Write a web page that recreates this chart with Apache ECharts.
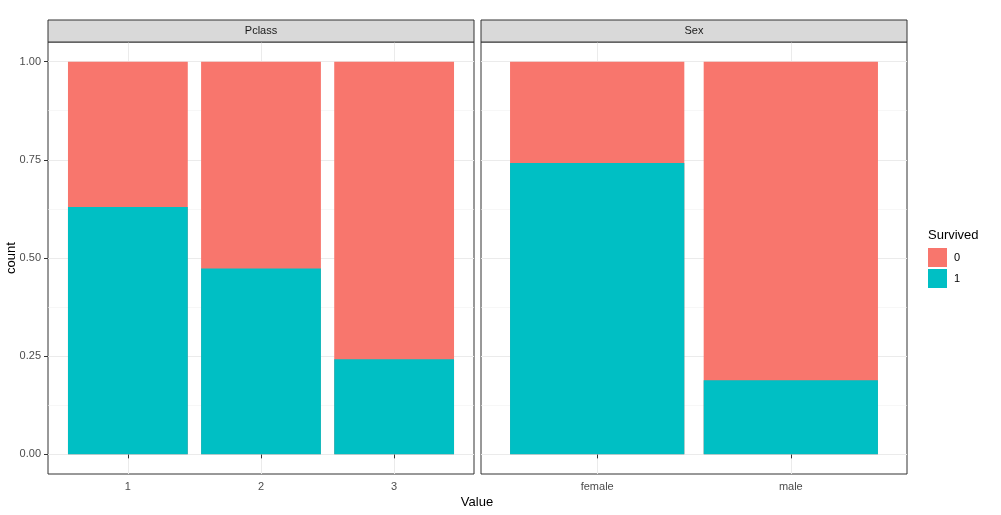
<!DOCTYPE html>
<html><head><meta charset="utf-8">
<script src="https://cdn.jsdelivr.net/npm/echarts@6/dist/echarts.min.js"></script>
<style>html,body{margin:0;padding:0;background:#fff}#c{width:1001px;height:515px}</style>
</head><body><div id="c"></div>
<script>
// Data (proportions; each bar totals 1)
const pclassCats = ['1', '2', '3'];
const pclassSurv1 = [0.630, 0.473, 0.242];
const pclassTotal = [1, 1, 1];
const sexCats = ['female', 'male'];
const sexSurv1 = [0.742, 0.189];
const sexTotal = [1, 1];
const yTicks = [0, 0.25, 0.5, 0.75, 1];
const yMinor = [0.125, 0.375, 0.625, 0.875];
const facetNames = ['Pclass', 'Sex'];

const RED = '#F8766D', TEAL = '#00BFC4';
const FONT = 'Liberation Sans, Arial, sans-serif';
const chart = echarts.init(document.getElementById('c'), null, {renderer: 'canvas'});

const grids = [
  {left: 48, top: 42, width: 426, height: 432},
  {left: 481, top: 42, width: 426, height: 432}
];
const cats = [pclassCats, sexCats];

function xAxis(i) {
  const n = cats[i].length;
  const pos = cats[i].map((_, k) => k + 1);
  return {
    type: 'value', gridIndex: i, min: 0.4, max: n + 0.6,
    axisLine: {show: false},
    axisTick: {show: true, length: 4, lineStyle: {color: '#333', width: 1}, customValues: pos},
    axisLabel: {customValues: pos, margin: 7, color: '#4D4D4D', fontSize: 11, fontFamily: FONT,
      formatter: v => cats[i][Math.round(v) - 1]},
    splitLine: {show: true, lineStyle: {color: '#EBEBEB', width: 1}, customValues: pos}
  };
}
function yAxis(i, showLabels) {
  return {
    type: 'value', gridIndex: i, min: -0.05, max: 1.05,
    axisLine: {show: false},
    axisTick: {show: showLabels, length: 4, lineStyle: {color: '#333'}, customValues: yTicks},
    axisLabel: {show: showLabels, customValues: yTicks, margin: 7, color: '#4D4D4D', fontSize: 11,
      fontFamily: FONT, formatter: v => v.toFixed(2)},
    splitLine: {show: true, lineStyle: {color: '#EBEBEB', width: 1}, customValues: yTicks}
  };
}
function yMinorAxis(i) {
  return {
    type: 'value', gridIndex: i, min: -0.05, max: 1.05, position: 'left',
    axisLine: {show: false}, axisTick: {show: false, customValues: yMinor},
    axisLabel: {show: false, customValues: yMinor},
    splitLine: {show: true, lineStyle: {color: '#F2F2F2', width: 0.6}, customValues: yMinor}
  };
}

function barSeries(name, color, vals, gi, z) {
  return {
    name: name, type: 'bar', xAxisIndex: gi, yAxisIndex: gi * 2,
    barWidth: '90%', barGap: '-100%', itemStyle: {color: color}, z: z,
    data: vals.map((v, k) => [k + 1, v])
  };
}

const graphics = [];
grids.forEach((g, i) => {
  graphics.push({type: 'rect', shape: {x: g.left, y: 20, width: g.width, height: 22},
    style: {fill: '#D9D9D9', stroke: '#333', lineWidth: 1}, z: 10});
  graphics.push({type: 'text', x: g.left + g.width / 2, y: 31,
    style: {text: facetNames[i], fill: '#1A1A1A', font: '11px ' + FONT, textAlign: 'center', textVerticalAlign: 'middle'}, z: 11});
});
graphics.push({type: 'text', x: 477, y: 502,
  style: {text: 'Value', fill: '#000', font: '13px ' + FONT, textAlign: 'center', textVerticalAlign: 'middle'}});
graphics.push({type: 'text', x: 11, y: 258, rotation: Math.PI / 2,
  style: {text: 'count', fill: '#000', font: '13px ' + FONT, textAlign: 'center', textVerticalAlign: 'middle'}});
graphics.push({type: 'text', x: 928, y: 235,
  style: {text: 'Survived', fill: '#000', font: '13px ' + FONT, textAlign: 'left', textVerticalAlign: 'middle'}});

chart.setOption({
  animation: false,
  backgroundColor: '#fff',
  grid: grids.map(g => Object.assign({show: true, borderColor: '#333', borderWidth: 1, backgroundColor: 'transparent'}, g)),
  xAxis: [xAxis(0), xAxis(1)],
  yAxis: [yAxis(0, true), yMinorAxis(0), yAxis(1, false), yMinorAxis(1)],
  legend: {
    orient: 'vertical', left: 923, top: 243, itemWidth: 19, itemHeight: 19, itemGap: 2,
    data: ['0', '1'], icon: 'rect',
    textStyle: {color: '#000', fontSize: 11, fontFamily: FONT, padding: [0, 0, 0, 2]}
  },
  series: [
    barSeries('0', RED, pclassTotal, 0, 2),
    barSeries('1', TEAL, pclassSurv1, 0, 3),
    barSeries('0', RED, sexTotal, 1, 2),
    barSeries('1', TEAL, sexSurv1, 1, 3)
  ],
  graphic: graphics
});
</script></body></html>
